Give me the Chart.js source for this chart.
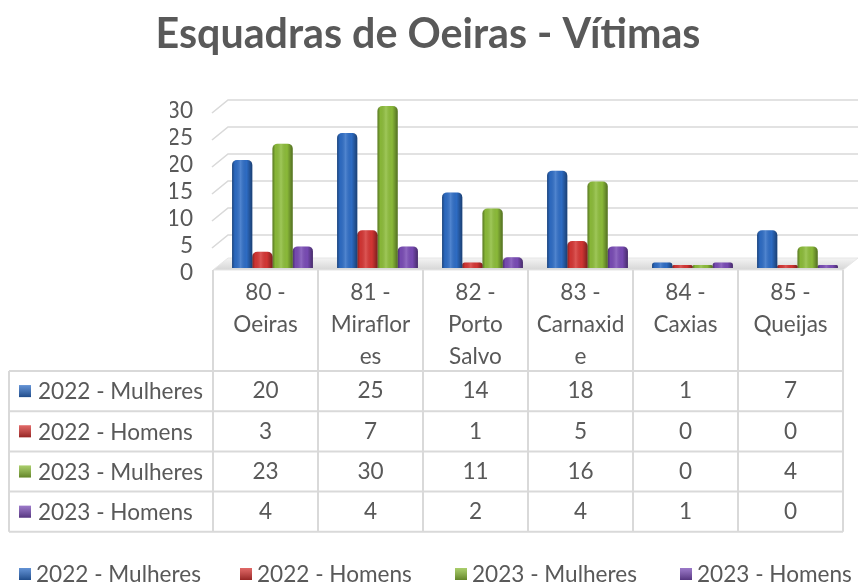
<!DOCTYPE html>
<html><head><meta charset="utf-8">
<script src="https://cdn.jsdelivr.net/npm/chart.js@4"></script>
<style>html,body{margin:0;padding:0;background:#fff}canvas{display:block}</style>
</head><body>
<canvas id="c" width="862" height="585"></canvas>
<script>
const chartTitle = 'Esquadras de Oeiras - Vítimas';
const categories = [['80 -','Oeiras'],['81 -','Miraflor','es'],['82 -','Porto','Salvo'],['83 -','Carnaxid','e'],['84 -','Caxias'],['85 -','Queijas']];
const seriesNames = ['2022 - Mulheres','2022 - Homens','2023 - Mulheres','2023 - Homens'];
const mulheres2022 = [20,25,14,18,1,7];
const homens2022 = [3,7,1,5,0,0];
const mulheres2023 = [23,30,11,16,0,4];
const homens2023 = [4,4,2,4,1,0];
const yTicks = [0,5,10,15,20,25,30];
const seriesColors = ['#2e6dc6','#d63634','#8dbd3a','#7a4cb6'];
const seriesValues = [mulheres2022, homens2022, mulheres2023, homens2023];

const FAMILY = 'Lato, "Open Sans", "DejaVu Sans", sans-serif';
const TEXT = '#595959';
const GRID = '#d9d9d9';
const DEPTH = 7;

const canvas = document.getElementById('c');
const mctx = canvas.getContext('2d');
function fitSize(text, weight, target){
  mctx.font = weight + ' 100px ' + FAMILY;
  return 100 * target / mctx.measureText(text).width;
}
const titleSize = fitSize(chartTitle, 'bold', 545);
const textSize = fitSize('2022 - Mulheres', 'normal', 165);

function shade(ctx, l, top, w, h, r){
  ctx.beginPath();
  r = Math.min(r, w/2, h/2);
  ctx.moveTo(l, top + h);
  ctx.lineTo(l, top + r);
  ctx.quadraticCurveTo(l, top, l + r, top);
  ctx.lineTo(l + w - r, top);
  ctx.quadraticCurveTo(l + w, top, l + w, top + r);
  ctx.lineTo(l + w, top + h);
  ctx.closePath();
}

const decor = {
  id: 'decor',
  beforeDraw(chart){
    const ctx = chart.ctx;
    ctx.save();
    ctx.fillStyle = TEXT;
    ctx.font = 'bold ' + titleSize + 'px ' + FAMILY;
    ctx.textAlign = 'center';
    ctx.textBaseline = 'alphabetic';
    ctx.fillText(chartTitle, 428, 48);
    ctx.restore();
  },
  beforeDatasetsDraw(chart){
    const ctx = chart.ctx, xs = chart.scales.x, ys = chart.scales.y;
    const step = xs.getPixelForValue(1) - xs.getPixelForValue(0);
    const fl = xs.getPixelForValue(0) - step/2 - DEPTH;
    const fr = xs.getPixelForValue(categories.length - 1) + step/2 - DEPTH;
    ctx.save();
    ctx.strokeStyle = GRID;
    ctx.lineWidth = 1.6;
    yTicks.forEach(v => {
      if (v === 0) return;
      const y = ys.getPixelForValue(v);
      ctx.beginPath();
      ctx.moveTo(fl - 1, y + 7);
      ctx.lineTo(fl + 15, y - 6);
      ctx.lineTo(fr + 15, y - 6);
      ctx.stroke();
    });
    const y0 = ys.getPixelForValue(0);
    const g = ctx.createLinearGradient(0, y0 - 10, 0, y0 + 2);
    g.addColorStop(0, '#f4f4f4');
    g.addColorStop(1, '#d6d6d6');
    ctx.fillStyle = g;
    ctx.beginPath();
    ctx.moveTo(fl, y0 + 2);
    ctx.lineTo(fr, y0 + 2);
    ctx.lineTo(fr + 15, y0 - 10);
    ctx.lineTo(fl + 15, y0 - 10);
    ctx.closePath();
    ctx.fill();
    ctx.strokeStyle = '#e6e6e6';
    ctx.lineWidth = 1;
    ctx.stroke();
    ctx.restore();
  },
  afterDatasetsDraw(chart){
    const ctx = chart.ctx;
    ctx.save();
    chart.data.datasets.forEach((ds, di) => {
      chart.getDatasetMeta(di).data.forEach(el => {
        const p = el.getProps(['x','y','base','width'], true);
        const l = p.x - p.width/2;
        const top = Math.min(p.y, p.base), h = Math.abs(p.base - p.y);
        const g = ctx.createLinearGradient(l, 0, l + p.width, 0);
        g.addColorStop(0, 'rgba(0,0,0,0.38)');
        g.addColorStop(0.14, 'rgba(0,0,0,0.04)');
        g.addColorStop(0.42, 'rgba(255,255,255,0.16)');
        g.addColorStop(0.72, 'rgba(0,0,0,0.02)');
        g.addColorStop(1, 'rgba(0,0,0,0.42)');
        ctx.fillStyle = g;
        shade(ctx, l, top, p.width, h, 5);
        ctx.fill();
      });
    });
    ctx.restore();
  },
  afterDraw(chart){
    const ctx = chart.ctx, xs = chart.scales.x, ys = chart.scales.y;
    const step = xs.getPixelForValue(1) - xs.getPixelForValue(0);
    const fl = xs.getPixelForValue(0) - step/2 - DEPTH;
    const fr = xs.getPixelForValue(categories.length - 1) + step/2 - DEPTH;
    const top = ys.getPixelForValue(0) + 2;
    const hdrBottom = top + 101;
    const rowH = 40.2;
    const tableLeft = 9;
    const bottom = hdrBottom + rowH * seriesNames.length;
    ctx.save();
    ctx.strokeStyle = GRID;
    ctx.lineWidth = 2;
    for (let i = 0; i <= categories.length; i++) {
      const x = fl + step * i;
      ctx.beginPath(); ctx.moveTo(x, top); ctx.lineTo(x, bottom); ctx.stroke();
    }
    ctx.beginPath(); ctx.moveTo(tableLeft, hdrBottom); ctx.lineTo(tableLeft, bottom); ctx.stroke();
    for (let r = 0; r <= seriesNames.length; r++) {
      const y = hdrBottom + rowH * r;
      ctx.beginPath(); ctx.moveTo(tableLeft, y); ctx.lineTo(fr, y); ctx.stroke();
    }
    ctx.fillStyle = TEXT;
    ctx.font = textSize + 'px ' + FAMILY;
    ctx.textAlign = 'center';
    ctx.textBaseline = 'middle';
    categories.forEach((lines, i) => {
      const cx = xs.getPixelForValue(i) - DEPTH;
      lines.forEach((t, k) => ctx.fillText(t, cx, top + 23 + 32 * k));
      seriesValues.forEach((vals, r) => {
        ctx.fillText(String(vals[i]), cx, hdrBottom + rowH * (r + 0.5));
      });
    });
    function key(x, yc, color){
      ctx.fillStyle = color;
      ctx.fillRect(x, yc - 6, 12, 12);
      const s = ctx.createLinearGradient(0, yc - 6, 0, yc + 6);
      s.addColorStop(0, 'rgba(255,255,255,0.25)');
      s.addColorStop(1, 'rgba(0,0,0,0.3)');
      ctx.fillStyle = s;
      ctx.fillRect(x, yc - 6, 12, 12);
    }
    ctx.textAlign = 'left';
    seriesNames.forEach((n, r) => {
      const yc = hdrBottom + rowH * (r + 0.5);
      key(19, yc, seriesColors[r]);
      ctx.fillStyle = TEXT;
      ctx.fillText(n, 38, yc + 1);
    });
    const legendX = [19, 240, 455, 680];
    seriesNames.forEach((n, r) => {
      const yc = 574;
      key(legendX[r], yc, seriesColors[r]);
      ctx.fillStyle = TEXT;
      ctx.fillText(n, legendX[r] + 17, yc + 1);
    });
    ctx.restore();
  }
};

new Chart(canvas, {
  type: 'bar',
  data: {
    labels: categories,
    datasets: seriesNames.map((n, i) => ({
      label: n,
      data: seriesValues[i],
      backgroundColor: seriesColors[i],
      borderRadius: {topLeft: 5, topRight: 5, bottomLeft: 0, bottomRight: 0},
      borderSkipped: 'bottom',
      minBarLength: 3,
      categoryPercentage: 0.77,
      barPercentage: 1.0
    }))
  },
  options: {
    responsive: false,
    animation: false,
    devicePixelRatio: 1,
    layout: {padding: {left: 170, right: 12, top: 106, bottom: 317}},
    plugins: {legend: {display: false}, tooltip: {enabled: false}, title: {display: false}},
    scales: {
      x: {display: false},
      y: {
        min: 0, max: 30,
        afterFit(s){ s.width = 50; },
        afterBuildTicks(s){ s.ticks = yTicks.map(v => ({value: v})); },
        ticks: {autoSkip: false, stepSize: 5, padding: 27, labelOffset: 5, color: TEXT, font: {family: FAMILY, size: textSize}},
        grid: {display: false, drawTicks: false},
        border: {display: false}
      }
    }
  },
  plugins: [decor]
});
</script>
</body></html>
